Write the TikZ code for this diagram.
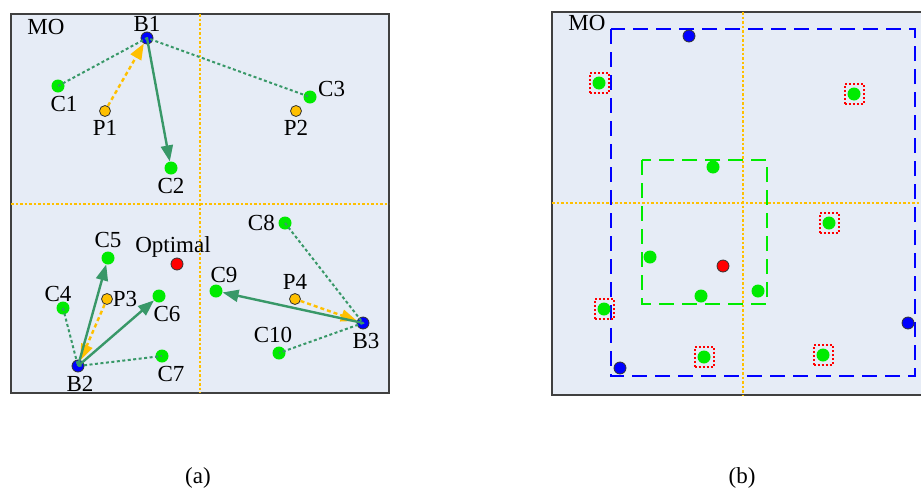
\documentclass[tikz,border=0pt]{standalone}
\usepackage{fontspec}
\setmainfont{Liberation Serif}
\usetikzlibrary{arrows.meta}

\definecolor{panelbg}{RGB}{230,236,246}
\definecolor{linkgreen}{RGB}{56,152,104}
\definecolor{gold}{RGB}{255,192,0}
\definecolor{dotgreen}{RGB}{0,235,0}

\begin{document}
\begin{tikzpicture}[x=1pt, y=-1pt, font=\fontsize{23}{27}\selectfont,
    >={Triangle[length=16pt,width=12pt]},
    panel/.style={fill=panelbg, draw=black!75, line width=1.3pt},
    divider/.style={draw=gold, line width=2pt, dash pattern=on 2.5pt off 2pt},
    cnode/.style={circle, fill=dotgreen, inner sep=0pt, minimum size=13pt},
    bnode/.style={circle, fill=blue, draw=black!80, line width=0.8pt, inner sep=0pt, minimum size=12pt},
    pnode/.style={circle, fill=gold, draw=black!80, line width=0.8pt, inner sep=0pt, minimum size=11pt},
    onode/.style={circle, fill=red, draw=black!80, line width=0.8pt, inner sep=0pt, minimum size=12pt},
    link/.style={draw=linkgreen, line width=2pt, dash pattern=on 3pt off 2.5pt},
    move/.style={->, draw=linkgreen, line width=2.4pt},
    pull/.style={->, draw=gold, line width=2.4pt, dash pattern=on 4pt off 3pt},
    sel/.style={draw=red, line width=2pt, dash pattern=on 2pt off 2pt, minimum width=19pt, minimum height=20pt},
    zone/.style={line width=2.3pt, dash pattern=on 15pt off 8pt}]
    \useasboundingbox (0,0) rectangle (921,493);

    \path[panel] (11,14) rectangle (389,393);
    \draw[divider] (200,14) -- (200,393);
    \draw[divider] (11,204) -- (389,204);
    \node (moA) at (46,27) {MO};

    \node[bnode, label={[label distance=-3pt]above:B1}] (B1) at (147,38) {};
    \node[cnode, label={[xshift=6pt]below:C1}] (C1) at (58,86) {};
    \node[pnode, label=below:P1] (P1) at (105,111) {};
    \node[cnode, label=below:C2] (C2) at (171,168) {};
    \node[cnode, label={[yshift=8pt, label distance=-2pt]right:C3}] (C3) at (310,97) {};
    \node[pnode, label=below:P2] (P2) at (296,111) {};
    \node[cnode, label=left:C8] (C8) at (285,223) {};
    \node[cnode, label=above:C5] (C5) at (108,258) {};
    \node[onode, label={[xshift=-4pt, label distance=-3pt]above:Optimal}] (opt) at (177,264) {};
    \node[cnode, label={[xshift=-5pt, label distance=-4pt]above:C4}] (C4) at (63,308) {};
    \node[pnode, label={[label distance=-3.5pt]right:P3}] (P3) at (107,299) {};
    \node[cnode, label={[xshift=8pt]below:C6}] (C6) at (159,296) {};
    \node[cnode, label={[xshift=8pt, label distance=-2pt]above:C9}] (C9) at (216,291) {};
    \node[pnode, label=above:P4] (P4) at (295,299) {};
    \node[bnode, label={[xshift=3pt]below:B3}] (B3) at (363,323) {};
    \node[cnode, label={[xshift=-6pt]above:C10}] (C10) at (279,353) {};
    \node[cnode, label={[xshift=9pt]below:C7}] (C7) at (162,356) {};
    \node[bnode, label={[xshift=2pt]below:B2}] (B2) at (78,366) {};

    \draw[link] (C1.center) -- (B1.center) -- (C3.center);
    \draw[pull] (P1) -- (B1);
    \draw[move] (B1.center) -- (C2);
    \draw[link] (C4.center) -- (B2.center) -- (C7.center);
    \draw[pull] (P3) -- (B2);
    \draw[move] (B2.center) -- (C5);
    \draw[move] (B2.center) -- (C6);
    \draw[link] (C8.center) -- (B3.center) -- (C10.center);
    \draw[pull] (P4) -- (B3);
    \draw[move] (B3.center) -- (C9);

    \fill[panelbg] (552,12) rectangle (921,395);
    \draw[black!75, line width=1.3pt] (921,12) -- (552,12) -- (552,395) -- (921,395);
    \draw[divider] (743,12) -- (743,395);
    \draw[divider] (552,203) -- (921,203);
    \node (moB) at (587,23) {MO};

    \draw[zone, blue] (611,29) rectangle (915,376);
    \draw[zone, dotgreen] (642,160) rectangle (767,304);

    \node[cnode] (bC1) at (599,83) {};
    \node[bnode] (bB1) at (689,36) {};
    \node[cnode] (bC3) at (854,94) {};
    \node[cnode] (bC2) at (713,167) {};
    \node[cnode] (bC8) at (829,223) {};
    \node[cnode] (bC5) at (650,257) {};
    \node[onode] (bopt) at (723,266) {};
    \node[cnode] (bC6) at (701,296) {};
    \node[cnode] (bC9) at (758,291) {};
    \node[cnode] (bC4) at (604,309) {};
    \node[bnode] (bB3) at (908,323) {};
    \node[cnode] (bC7) at (704,357) {};
    \node[cnode] (bC10) at (823,355) {};
    \node[bnode] (bB2) at (620,368) {};
    \foreach \c in {C1,C3,C8,C4,C7,C10}
        \node[sel] (s\c) at (b\c) {};

    \node (capA) at (198,478) {(a)};
    \node (capB) at (742,478) {(b)};
\end{tikzpicture}
\end{document}
